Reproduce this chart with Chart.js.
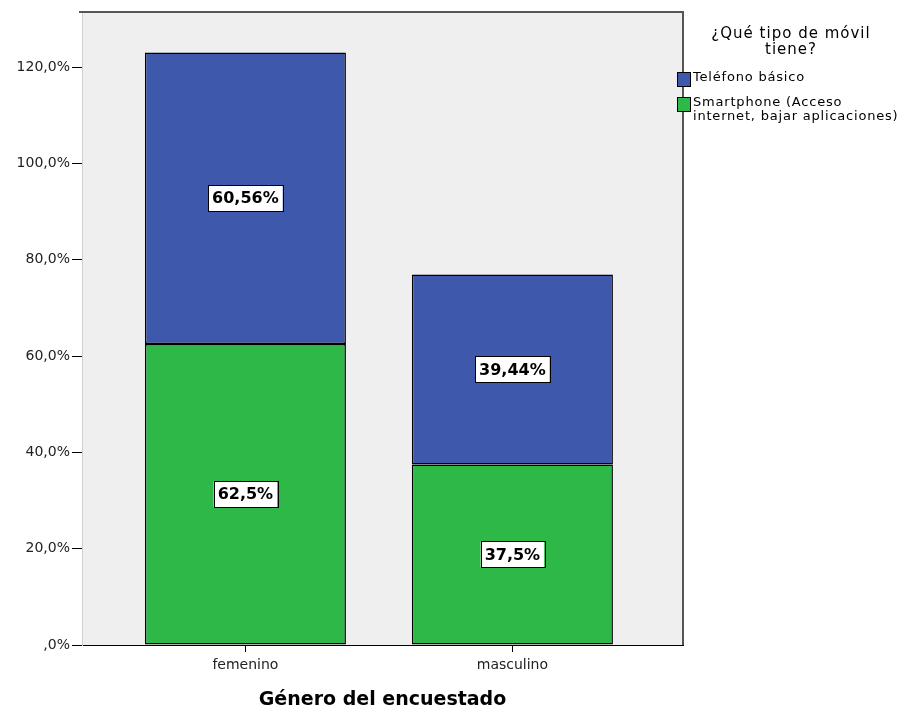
<!DOCTYPE html>
<html>
<head>
<meta charset="utf-8">
<script src="https://cdn.jsdelivr.net/npm/chart.js@4.4.1/dist/chart.umd.min.js"></script>
<style>
  html, body { margin: 0; padding: 0; background: #fff; }
  canvas { display: block; }
</style>
</head>
<body>
<canvas id="c" width="902" height="711"></canvas>
<script>
// ---- data ----
const categories = ['femenino', 'masculino'];
const smartphoneValues = [62.5, 37.5];
const basicoValues = [60.56, 39.44];
const seriesNames = ['Smartphone (Acceso internet, bajar aplicaciones)', 'Teléfono básico'];
const legendTitleLines = ['¿Qué tipo de móvil', 'tiene?'];
const legendLines = [['Teléfono básico'], ['Smartphone (Acceso', 'internet, bajar aplicaciones)']];
const yTickValues = [0, 20, 40, 60, 80, 100, 120];
const yTickLabels = [',0%', '20,0%', '40,0%', '60,0%', '80,0%', '100,0%', '120,0%'];
const xTitle = 'Género del encuestado';

const BLUE = '#3E58AC';
const GREEN = '#2EB848';
const FONT = "'DejaVu Sans', sans-serif";

function fmtPct(v) { return String(v).replace('.', ',') + '%'; }

const bgPlugin = {
  id: 'bg',
  beforeDraw(chart) {
    const { ctx, chartArea: a } = chart;
    ctx.save();
    ctx.fillStyle = '#EFEFEF';
    ctx.fillRect(a.left, a.top, a.right - a.left, a.bottom - a.top);
    ctx.restore();
  },
  afterDraw(chart) {
    const { ctx, chartArea: a } = chart;
    ctx.save();
    ctx.strokeStyle = '#555';
    ctx.lineWidth = 2;
    ctx.beginPath();
    ctx.moveTo(a.left - 3, a.top);
    ctx.lineTo(a.right, a.top);
    ctx.lineTo(a.right, a.bottom);
    ctx.stroke();
    ctx.restore();

    // legend
    ctx.save();
    ctx.fillStyle = '#000';
    ctx.textAlign = 'center';
    ctx.textBaseline = 'middle';
    ctx.font = '15px ' + FONT;
    try { ctx.letterSpacing = '1px'; } catch (e) {}
    legendTitleLines.forEach((t, i) => ctx.fillText(t, 791, 34 + i * 16));
    ctx.textAlign = 'left';
    ctx.font = '13px ' + FONT;
    try { ctx.letterSpacing = '0.8px'; } catch (e) {}
    const colors = [BLUE, GREEN];
    const boxY = [72, 97];
    legendLines.forEach((lines, i) => {
      ctx.fillStyle = colors[i];
      ctx.fillRect(677, boxY[i], 13, 14);
      ctx.strokeStyle = '#000';
      ctx.lineWidth = 1;
      ctx.strokeRect(677.5, boxY[i] + 0.5, 13, 14);
      ctx.fillStyle = '#000';
      lines.forEach((t, k) => ctx.fillText(t, 693, boxY[i] + 6 + (lines.length > 1 ? k * 14 : 0)));
    });
    ctx.restore();
  },
  afterDatasetsDraw(chart) {
    const { ctx } = chart;
    ctx.save();
    ctx.font = 'bold 16px ' + FONT;
    ctx.textAlign = 'center';
    ctx.textBaseline = 'middle';
    chart.data.datasets.forEach((ds, i) => {
      const meta = chart.getDatasetMeta(i);
      meta.data.forEach((bar, j) => {
        const txt = fmtPct(ds.data[j].y);
        const cy = (bar.y + bar.base) / 2;
        const w = ctx.measureText(txt).width + 8;
        const h = 26;
        ctx.fillStyle = '#fff';
        ctx.fillRect(bar.x - w / 2, cy - h / 2, w, h);
        ctx.strokeStyle = '#000';
        ctx.lineWidth = 1;
        ctx.strokeRect(Math.round(bar.x - w / 2) + 0.5, Math.round(cy - h / 2) + 0.5, Math.round(w), h);
        ctx.fillStyle = '#000';
        ctx.fillText(txt, bar.x, cy + 1);
      });
    });
    ctx.restore();
  }
};

const xs = categories.map((c, i) => i);

new Chart(document.getElementById('c'), {
  type: 'bar',
  plugins: [bgPlugin],
  data: {
    datasets: [
      { label: seriesNames[0], data: xs.map((x, i) => ({ x, y: smartphoneValues[i] })),
        backgroundColor: GREEN, borderColor: '#000', borderWidth: 1.5, borderSkipped: false },
      { label: seriesNames[1], data: xs.map((x, i) => ({ x, y: basicoValues[i] })),
        backgroundColor: BLUE, borderColor: '#000', borderWidth: 1.5, borderSkipped: false }
    ]
  },
  options: {
    responsive: false,
    animation: false,
    events: [],
    layout: { padding: { left: 0, top: 12, right: 219, bottom: 0 } },
    barPercentage: 0.753,
    categoryPercentage: 1,
    plugins: { legend: { display: false }, tooltip: { enabled: false } },
    scales: {
      x: {
        type: 'linear',
        stacked: true,
        offset: false,
        min: -0.612,
        max: 1.639,
        afterBuildTicks(scale) { scale.ticks = xs.map(v => ({ value: v })); },
        afterFit(scale) { scale.height = 66; },
        ticks: {
          autoSkip: false,
          callback: (v) => categories[v],
          font: { family: FONT, size: 14 },
          color: '#222',
          padding: 5,
          maxRotation: 0
        },
        grid: { offset: false, drawOnChartArea: false, drawTicks: true, tickLength: 7, color: '#000' },
        border: { display: true, color: '#000', width: 1 },
        title: {
          display: true,
          text: xTitle,
          font: { family: FONT, size: 19, weight: 'bold' },
          color: '#000',
          padding: { top: 0, bottom: 0 }
        }
      },
      y: {
        stacked: true,
        min: 0,
        max: 131.46,
        afterBuildTicks(scale) { scale.ticks = yTickValues.map(v => ({ value: v })); },
        afterFit(scale) { scale.width = 82; },
        ticks: {
          callback: (v) => yTickLabels[yTickValues.indexOf(v)],
          font: { family: FONT, size: 14 },
          color: '#222',
          padding: 2
        },
        grid: { drawOnChartArea: false, drawTicks: true, tickLength: 10, color: '#000' },
        border: { display: true, color: '#cfcfcf', width: 1 }
      }
    }
  }
});
</script>
</body>
</html>
